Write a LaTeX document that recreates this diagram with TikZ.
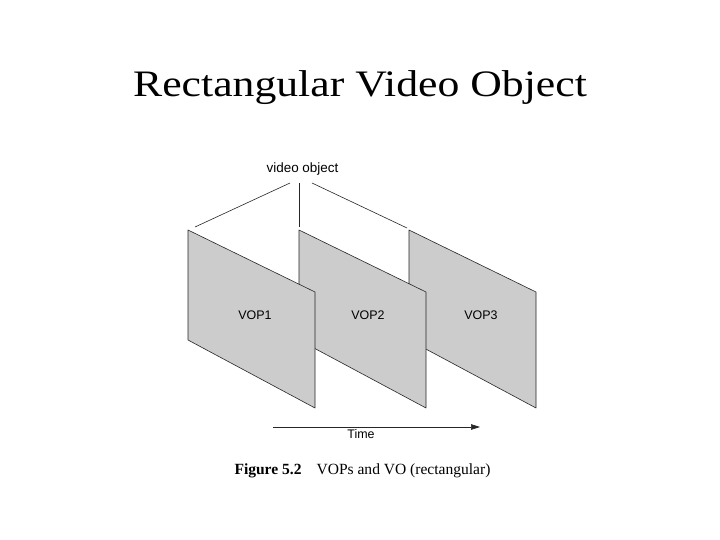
\documentclass[tikz,border=0pt]{standalone}
\usepackage{fontspec}
\setmainfont{Liberation Serif}
\newfontfamily\arialfont{Liberation Sans}
\usetikzlibrary{arrows.meta}
\tikzset{
  panel/.style={draw=black!85, line width=0.6pt, fill=black!20, line join=round},
  lbl/.style={font=\arialfont\fontsize{12.5}{14}\selectfont, anchor=base, inner sep=0pt},
  conn/.style={draw=black!85, line width=0.6pt},
}
\begin{document}
\begin{tikzpicture}[x=1bp, y=-1bp]
\useasboundingbox (0,0) rectangle (720,540);
\fill[white] (0,0) rectangle (720,540);
% title
\node[anchor=base, inner sep=0pt] (title) at (360,97) {\scalebox{1.17}[1]{\fontsize{37.5}{40}\selectfont Rectangular Video Object}};
% video object label
\node[lbl, font=\arialfont\fontsize{13.5}{15}\selectfont] (vo) at (302.5,173) {video object};
% panels (back to front)
\foreach \n/\x in {3/409, 2/299, 1/188} {
  \coordinate (p\n tl) at (\x,230);
  \coordinate (p\n tr) at (\x+127,292);
  \coordinate (p\n br) at (\x+127,408);
  \coordinate (p\n bl) at (\x,340);
  \path[panel] (p\n tl) -- (p\n tr) -- (p\n br) -- (p\n bl) -- cycle;
}
\node[lbl] (vop1) at (255,319) {VOP1};
\node[lbl] (vop2) at (368,319) {VOP2};
\node[lbl] (vop3) at (481,319) {VOP3};
% connectors from video object
\coordinate (vl) at (290,183);
\coordinate (vm) at (299,183);
\coordinate (vr) at (312,183);
\coordinate (e1) at (195,227);
\coordinate (e2) at (299,227);
\coordinate (e3) at (407,228);
\draw[conn] (vl) -- (e1);
\draw[conn] (vm) -- (e2);
\draw[conn] (vr) -- (e3);
% time arrow
\coordinate (ts) at (273,427);
\coordinate (te) at (480,427);
\draw[conn, -{Triangle[length=9bp,width=5.5bp]}] (ts) -- (te);
\node[lbl] (time) at (361,438) {Time};
% caption
\node[anchor=base, inner sep=0pt] (cap) at (362.5,474) {\fontsize{15.6}{17}\selectfont\textbf{Figure 5.2}\hspace{15bp}VOPs and VO (rectangular)};
\end{tikzpicture}
\end{document}
